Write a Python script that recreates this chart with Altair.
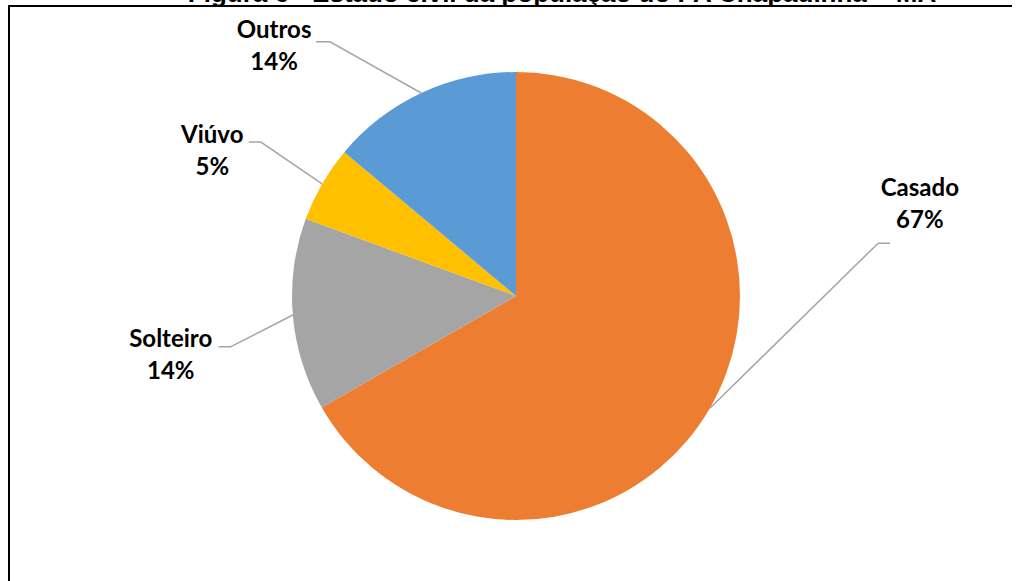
import math
import altair as alt
import pandas as pd

# ---- data ----
categories = ["Casado", "Solteiro", "Viúvo", "Outros"]
share = [66.7, 13.9, 5.5, 13.9]          # slice sizes
label_pct = ["67%", "14%", "5%", "14%"]  # labels as printed
colors = ["#ED7D31", "#A5A5A5", "#FFC000", "#5B9BD5"]
title_text = "Figura 6 - Estado civil da população do PA Chapadinha – MA"

# ---- layout (pixels / polar offsets) ----
W, H = 1016, 581
CX, CY, R = 516, 296, 224
# label anchor (angle deg clockwise from top, radius px)
label_polar = {"Casado": (76.1, 416), "Solteiro": (261.6, 349),
               "Viúvo": (296.7, 340), "Outros": (316.9, 354)}
# leader elbow (angle, radius) and horizontal tail length (+ right / - left)
elbow_polar = {"Casado": (81.7, 366, 12), "Solteiro": (259.9, 290, -12),
               "Viúvo": (301.1, 298, -12), "Outros": (323.8, 315, -14)}
LINE_GAP = 32


def polar(angle_deg, r):
    a = math.radians(angle_deg)
    return CX + r * math.sin(a), CY - r * math.cos(a)


df = pd.DataFrame({"cat": categories, "val": share, "idx": range(len(categories))})
total = sum(share)
cum = 0
mid = {}
for c, p in zip(categories, share):
    mid[c] = (cum + p / 2) / total * 360
    cum += p

xs = alt.Scale(domain=[0, W], range=[0, W])
ys = alt.Scale(domain=[0, H], range=[0, H])

# labels
lab_rows = []
for c, p in zip(categories, label_pct):
    lx, ly = polar(*label_polar[c])
    lab_rows.append({"x": lx, "y": ly, "t": c})
    lab_rows.append({"x": lx, "y": ly + LINE_GAP, "t": p})
lab_df = pd.DataFrame(lab_rows)

# leader lines
lead_rows = []
for c in categories:
    sx, sy = polar(mid[c], R)
    ea, er, tail = elbow_polar[c]
    ex, ey = polar(ea, er)
    lead_rows += [
        {"cat": c, "o": 0, "x": sx, "y": sy},
        {"cat": c, "o": 1, "x": ex, "y": ey},
        {"cat": c, "o": 2, "x": ex + tail, "y": ey},
    ]
lead_df = pd.DataFrame(lead_rows)

color_scale = alt.Scale(domain=categories, range=colors)

# soft shadow under the pie
shadow_df = pd.DataFrame({"v": [1]})
shadows = [
    alt.Chart(shadow_df).mark_arc(radius=R + 2 + i, color="#000", opacity=0.05)
    .encode(theta=alt.Theta("v:Q"), x=alt.value(CX + 1), y=alt.value(CY + 3 + i))
    for i in range(3)
]

pie = alt.Chart(df).mark_arc(radius=R, stroke=None).encode(
    theta=alt.Theta("val:Q", stack=True),
    color=alt.Color("cat:N", scale=color_scale, legend=None),
    order=alt.Order("idx:Q"),
    x=alt.value(CX),
    y=alt.value(CY),
)

leaders = alt.Chart(lead_df).mark_line(color="#A6A6A6", strokeWidth=1.5).encode(
    x=alt.X("x:Q", scale=xs, axis=None),
    y=alt.Y("y:Q", scale=ys, axis=None),
    detail="cat:N",
    order="o:Q",
)

labels = alt.Chart(lab_df).mark_text(
    font="Lato", fontWeight="bold", fontSize=24, color="#000",
    align="center", baseline="alphabetic",
).encode(
    x=alt.X("x:Q", scale=xs, axis=None),
    y=alt.Y("y:Q", scale=ys, axis=None),
    text="t:N",
)

frame_df = pd.DataFrame({"x": [8, 9], "y": [6, 5], "x2": [1012, 9], "y2": [6, H]})
frame = alt.Chart(frame_df).mark_rule(color="#000", strokeWidth=2).encode(
    x=alt.X("x:Q", scale=xs, axis=None),
    y=alt.Y("y:Q", scale=ys, axis=None),
    x2="x2:Q",
    y2="y2:Q",
)

title = alt.Chart(pd.DataFrame({"t": [title_text]})).mark_text(
    font="Liberation Sans", fontWeight="bold", fontSize=26, color="#000",
    align="center", baseline="alphabetic",
).encode(x=alt.value(562), y=alt.value(2), text="t:N")

chart = alt.layer(*shadows, pie, leaders, labels, frame, title).properties(
    width=W, height=H, padding=0, autosize=alt.AutoSizeParams(type="none"),
    background="#ffffff",
).configure_view(stroke=None)

chart.save("out.html", embed_options={"renderer": "svg", "actions": False})
